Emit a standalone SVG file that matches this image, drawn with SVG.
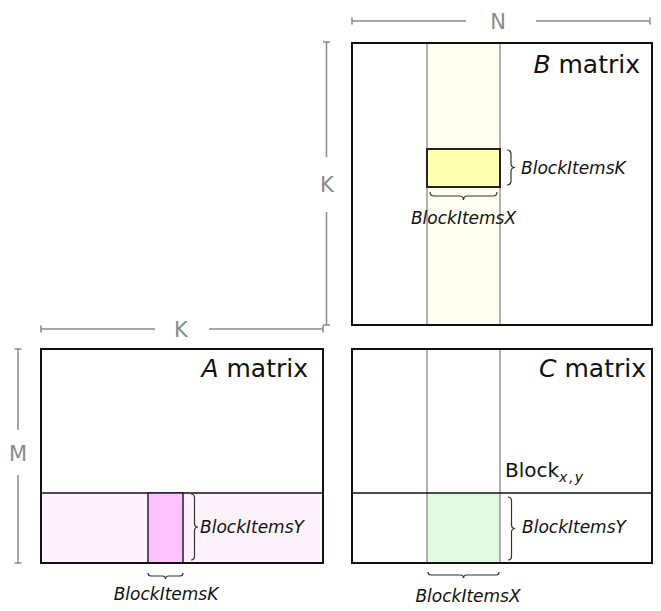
<svg xmlns="http://www.w3.org/2000/svg" width="661" height="611" viewBox="0 0 661 611">
<style>
.box{fill:none;stroke:#111;stroke-width:2}
.thin{stroke:#666;stroke-width:1;fill:none}
.mid{stroke:#111;stroke-width:1.5;fill:none}
.dim{stroke:#8a8a8a;stroke-width:1.5;fill:none}
.dimt{font-family:"DejaVu Sans",Verdana,sans-serif;font-size:21px;fill:#8a8a8a;text-anchor:middle}
.title{font-family:"DejaVu Sans",Verdana,sans-serif;font-size:25px;fill:#111;text-anchor:end}
.lbl{font-family:"DejaVu Sans",Verdana,sans-serif;font-size:17px;font-style:italic;fill:#111}
.brace{fill:none;stroke:#333;stroke-width:1.2}
</style>
<rect width="661" height="611" fill="#fff"/>
<g id="dimensions">
  <g id="dim-N">
    <path class="dim" d="M352,21 H466 M536,21 H650 M352,17.5 V24.5 M650,17.5 V24.5"/>
    <text class="dimt" x="498" y="29">N</text>
  </g>
  <g id="dim-K-vertical">
    <path class="dim" d="M326.5,42 V157 M326.5,212 V325 M323,42 H330 M323,325 H330"/>
    <text class="dimt" x="327" y="192">K</text>
  </g>
  <g id="dim-K-horizontal">
    <path class="dim" d="M41,329 H155 M209,329 H323 M41,325.5 V332.5 M323,325.5 V332.5"/>
    <text class="dimt" x="181" y="337">K</text>
  </g>
  <g id="dim-M">
    <path class="dim" d="M18,349 V430 M18,475 V563 M14.5,349 H21.5 M14.5,563 H21.5"/>
    <text class="dimt" x="18" y="461">M</text>
  </g>
</g>
<g id="B-matrix">
  <rect x="427" y="43" width="73" height="282" fill="#fefef1"/>
  <path class="thin" d="M427,43 V325 M500,43 V325"/>
  <rect id="B-block" x="427" y="149" width="73" height="38" fill="#ffffb0" stroke="#222" stroke-width="2"/>
  <rect class="box" x="352" y="43" width="300" height="282"/>
  <text class="title" x="640" y="73"><tspan font-style="italic">B</tspan> matrix</text>
  <path class="brace" d="M507,150 Q511,150 511,154 L511,163.5 Q511,167.5 515,167.5 Q511,167.5 511,171.5 L511,181 Q511,185 507,185"/>
  <text class="lbl" x="521" y="174">BlockItemsK</text>
  <path class="brace" d="M430,192 Q430,196 434,196 L459.5,196 Q463.5,196 463.5,200 Q463.5,196 467.5,196 L493,196 Q497,196 497,192"/>
  <text class="lbl" x="463.5" y="224" text-anchor="middle">BlockItemsX</text>
</g>
<g id="A-matrix">
  <rect x="41" y="493" width="282" height="70" fill="#fdf2fd"/>
  <path class="mid" d="M41,493 H323"/>
  <rect id="A-block" x="148" y="493" width="35" height="70" fill="#ffc2ff" stroke="#222" stroke-width="1.5"/>
  <rect class="box" x="41" y="349" width="282" height="214"/>
  <text class="title" x="308" y="377"><tspan font-style="italic">A</tspan> matrix</text>
  <path class="brace" d="M191,494 Q194.5,494 194.5,498 L194.5,523 Q194.5,527 198,527 Q194.5,527 194.5,531 L194.5,556 Q194.5,560 191,560"/>
  <text class="lbl" x="200" y="533">BlockItemsY</text>
  <path class="brace" stroke-width="1.8" d="M148,573 Q148,576 151,576 L162.5,576 Q165.5,576 165.5,579 Q165.5,576 168.5,576 L180,576 Q183,576 183,573"/>
  <text class="lbl" x="166" y="600" text-anchor="middle">BlockItemsK</text>
</g>
<g id="C-matrix">
  <rect id="C-block" x="427" y="493" width="73" height="70" fill="#e2fae2"/>
  <path class="thin" d="M427,349 V563 M500,349 V563"/>
  <path class="mid" d="M352,493 H652"/>
  <rect class="box" x="352" y="349" width="300" height="214"/>
  <text class="title" x="646" y="377"><tspan font-style="italic">C</tspan> matrix</text>
  <text x="505" y="477" font-family="'DejaVu Sans',Verdana,sans-serif" font-size="20" fill="#111">Block<tspan font-size="14" font-style="italic" dy="5" letter-spacing="1.5">x,y</tspan></text>
  <path class="brace" d="M508,497 Q511.5,497 511.5,501 L511.5,524.5 Q511.5,528.5 515,528.5 Q511.5,528.5 511.5,532.5 L511.5,556 Q511.5,560 508,560"/>
  <text class="lbl" x="522" y="533">BlockItemsY</text>
  <path class="brace" d="M428,572 Q428,575 431,575 L460.5,575 Q463.5,575 463.5,578 Q463.5,575 466.5,575 L496,575 Q499,575 499,572"/>
  <text class="lbl" x="468" y="602" text-anchor="middle">BlockItemsX</text>
</g>
<g id="connectors"></g>
</svg>
